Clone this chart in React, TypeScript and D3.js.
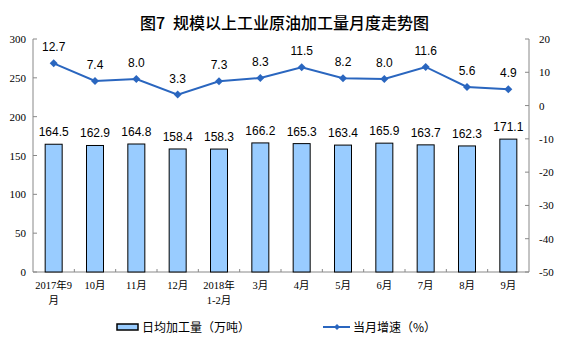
import React from "react";
import * as d3 from "d3";

const categories = ["2017年9\n月", "10月", "11月", "12月", "2018年\n1-2月", "3月", "4月", "5月", "6月", "7月", "8月", "9月"];
const dailyOutput = [164.5, 162.9, 164.8, 158.4, 158.3, 166.2, 165.3, 163.4, 165.9, 163.7, 162.3, 171.1];
const growth = [12.7, 7.4, 8.0, 3.3, 7.3, 8.3, 11.5, 8.2, 8.0, 11.6, 5.6, 4.9];
const leftTicks = [0, 50, 100, 150, 200, 250, 300];
const rightTicks = [-50, -40, -30, -20, -10, 0, 10, 20];

export default function App() {
  const W = 561, H = 357;
  const left = 33, right = 529, top = 39, bottom = 272;
  const x = d3.scaleBand<string>().domain(categories).range([left, right]).paddingInner(0).paddingOuter(0);
  const yL = d3.scaleLinear().domain([0, 300]).range([bottom, top]);
  const yR = d3.scaleLinear().domain([-50, 20]).range([bottom, top]);
  const barW = 17;
  const cx = (c: string) => (x(c) as number) + x.bandwidth() / 2;
  const line = d3.line<number>().x((_, i) => cx(categories[i])).y((d) => yR(d));
  const serif = "'Liberation Serif', 'Noto Sans CJK SC', serif";
  const sans = "'Liberation Sans', Arial, 'Noto Sans CJK SC', sans-serif";
  const cjk = "'Noto Sans CJK SC', sans-serif";
  const lineColor = "#2a66bf";
  const diamond = (px: number, py: number, s: number) => `M${px},${py - s}L${px + s},${py}L${px},${py + s}L${px - s},${py}Z`;
  return (
    <svg width={W} height={H} style={{ position: "absolute", left: 0, top: 0, background: "#fff" }}>
      <text x={140} y={29} textAnchor="start" fontFamily={cjk} fontSize={16} fontWeight="500" fill="#000">
        <tspan>图7</tspan>
        <tspan x={173}>规模以上工业原油加工量月度走势图</tspan>
      </text>
      {/* axes */}
      <line x1={left} x2={left} y1={top} y2={bottom} stroke="#888" />
      <line x1={right} x2={right} y1={top} y2={bottom} stroke="#888" />
      <line x1={left} x2={right} y1={bottom} y2={bottom} stroke="#888" />
      {leftTicks.map((t) => (
        <g key={"l" + t}>
          <line x1={left} x2={left + 4} y1={yL(t)} y2={yL(t)} stroke="#888" />
          <text x={left - 7} y={yL(t) + 4} textAnchor="end" fontFamily={serif} fontSize={11} fill="#000">{t}</text>
        </g>
      ))}
      {rightTicks.map((t) => (
        <g key={"r" + t}>
          <line x1={right - 4} x2={right} y1={yR(t)} y2={yR(t)} stroke="#888" />
          <text x={right + 10} y={yR(t) + 4} textAnchor="start" fontFamily={serif} fontSize={11} fill="#000">{t}</text>
        </g>
      ))}
      {categories.slice(1).map((c) => (
        <line key={"xt" + c} x1={x(c) as number} x2={x(c) as number} y1={bottom} y2={bottom - 3} stroke="#888" />
      ))}
      {/* bars */}
      {dailyOutput.map((v, i) => (
        <g key={"b" + i}>
          <rect x={cx(categories[i]) - barW / 2} y={yL(v)} width={barW} height={bottom - yL(v)} fill="#99ccff" stroke="#000" strokeWidth={1} />
          <text x={cx(categories[i])} y={yL(v) - 8} textAnchor="middle" fontFamily={sans} fontSize={12} fill="#000">{v.toFixed(1)}</text>
        </g>
      ))}
      {/* line */}
      <path d={line(growth) || ""} fill="none" stroke={lineColor} strokeWidth={2} />
      {growth.map((v, i) => (
        <g key={"p" + i}>
          <path d={diamond(cx(categories[i]), yR(v), 4)} fill={lineColor} />
          <text x={cx(categories[i])} y={yR(v) - 12} textAnchor="middle" fontFamily={sans} fontSize={12} fill="#000">{v.toFixed(1)}</text>
        </g>
      ))}
      {/* x labels */}
      {categories.map((c) => (
        <text key={"xl" + c} x={cx(c)} y={bottom + 17} textAnchor="middle" fontFamily={serif} fontSize={10.5} fill="#000">
          {c.split("\n").map((s, j) => (
            <tspan key={j} x={cx(c)} dy={j === 0 ? 0 : 15}>{s}</tspan>
          ))}
        </text>
      ))}
      {/* legend */}
      <rect x={117} y={324} width={21} height={6} fill="#99ccff" stroke="#000" strokeWidth={1.5} />
      <text x={142} y={332} fontFamily={cjk} fontSize={12} fill="#000">日均加工量（万吨）</text>
      <line x1={323} x2={350} y1={327} y2={327} stroke={lineColor} strokeWidth={2} />
      <path d={diamond(337, 327, 3)} fill={lineColor} />
      <text x={353} y={332} fontFamily={cjk} fontSize={12} fill="#000">当月增速（%）</text>
    </svg>
  );
}
